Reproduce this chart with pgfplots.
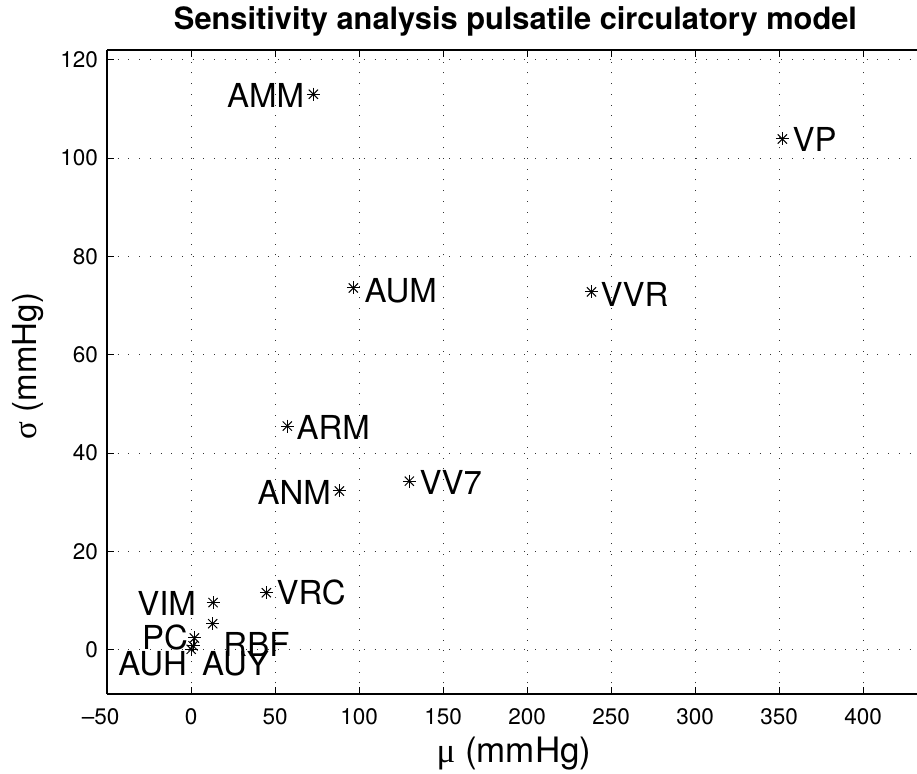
\documentclass[border=0pt]{standalone}
\usepackage{fontspec}
\setmainfont{TeX Gyre Heros}
\newfontfamily\greek{Liberation Serif}
\usepackage{pgfplots}
\pgfplotsset{compat=1.18}
\newcommand{\lbl}{\fontsize{33}{40}\selectfont}
\begin{document}
\begin{tikzpicture}
\begin{axis}[
 scale only axis, width=810pt, height=644pt,
 xmin=-50, xmax=432, ymin=-9, ymax=122,
 axis x line*=box, axis y line*=left,
 xtick={-50,0,50,100,150,200,250,300,350,400},
 xticklabels={\llap{–}50,0,50,100,150,200,250,300,350,400},
 ytick={0,20,40,60,80,100,120},
 /pgf/number format/assume math mode=true,
 tick align=inside, major tick length=7pt,
 tick style={black, line width=0.8pt},
 axis line style={line width=1.2pt, -},
 ticklabel style={font=\fontsize{22.5}{27}\selectfont, inner sep=0pt},
 xticklabel style={anchor=north, yshift=-14pt},
 yticklabel style={anchor=east, xshift=-9pt},
 grid=major,
 major grid style={black!80, line width=0.9pt, dash pattern=on 0.9pt off 9.8pt},
 clip=false,
]
\pgfplotstableread{
x y
72.8 113.0
351.9 103.9
96.6 73.6
238.3 72.8
57.3 45.5
88.3 32.3
129.9 34.3
44.8 11.6
13.1 9.6
12.9 5.3
2.0 2.4
0.1 0.1
1.2 0.8
}\pts
\addplot[only marks, mark=+, mark size=6.5pt, mark options={line width=1pt, black}] table {\pts};
\addplot[only marks, mark=x, mark size=6.5pt, mark options={line width=1pt, black}] table {\pts};
\coordinate (o) at (rel axis cs:0,0);
\begin{scope}[every node/.style={inner sep=0pt, font=\lbl}]
\node[anchor=west] at (axis cs:21.4,112.8) {AMM};
\node[anchor=west] at (axis cs:357.9,103.9) {VP};
\node[anchor=west] at (axis cs:103.2,73.0) {AUM};
\node[anchor=west] at (axis cs:243.6,72.2) {VVR};
\node[anchor=west] at (axis cs:62.7,45.3) {ARM};
\node[anchor=west] at (axis cs:39.5,31.9) {ANM};
\node[anchor=west] at (axis cs:135.9,34.1) {VV7};
\node[anchor=west] at (axis cs:50.8,11.6) {VRC};
\node[anchor=west] at (axis cs:-32.1,9.45) {VIM};
\node[anchor=west] at (axis cs:-29.2,2.6) {PC};
\node[anchor=west] at (axis cs:19.2,1.1) {RBF};
\node[anchor=west] at (axis cs:-43.3,-2.85) {AUH};
\node[anchor=west] at (axis cs:6.5,-2.85) {AUY};
\end{scope}
\end{axis}
\node[anchor=base, font=\bfseries\fontsize{30.8}{36}\selectfont] at ([shift={(408.5pt,664pt)}]o) {Sensitivity analysis pulsatile circulatory model};
\node[anchor=base, font=\fontsize{35}{42}\selectfont] at ([shift={(407pt,-68pt)}]o) {{\greek μ} (mmHg)};
\node[anchor=base, rotate=90, font=\lbl] at ([shift={(-70pt,328pt)}]o) {{\greek σ} (mmHg)};
\pgfresetboundingbox
\path[use as bounding box] (o) ++(-107pt,-79pt) rectangle ++(917pt,773pt);
\end{tikzpicture}
\end{document}
